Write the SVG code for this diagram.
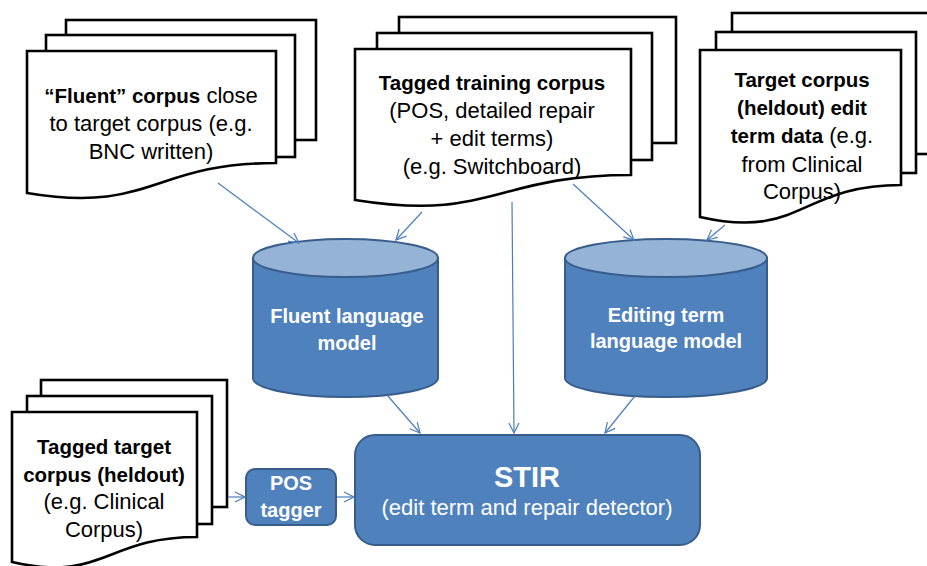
<svg xmlns="http://www.w3.org/2000/svg" width="927" height="566" viewBox="0 0 927 566">
<defs>
<style>
.pg{fill:#fff;stroke:#000;stroke-width:2.6;stroke-linejoin:miter}
.t{font-family:"Liberation Sans",Arial,sans-serif;font-size:22px;fill:#000;text-anchor:middle}
.b{font-weight:bold;font-size:20.5px}
.w{fill:#fff;font-weight:bold;font-size:20px}
.body{fill:#4F81BD;stroke:#385D8A;stroke-width:2}
.top{fill:#95B3D7;stroke:#385D8A;stroke-width:2}
.cn{stroke:#4A7EBB;stroke-width:1.2;fill:none;marker-end:url(#ah)}
</style>
<marker id="ah" markerUnits="userSpaceOnUse" markerWidth="12" markerHeight="12" viewBox="0 0 12 12" refX="11" refY="6" orient="auto">
<path d="M1,1 L11,6 L1,11" fill="none" stroke="#4A7EBB" stroke-width="1.2"/>
</marker>
</defs>
<rect width="927" height="566" fill="#fff"/>

<g id="doc-fluent">
<rect class="pg" x="66" y="20" width="250" height="120"/>
<rect class="pg" x="46" y="35" width="249" height="122"/>
<path class="pg" d="M27,51 H276 V163 C151.5,163 151.5,214 27,193 Z"/>
<text class="t" x="151" y="103"><tspan class="b">“Fluent” corpus</tspan> close</text>
<text class="t" x="151" y="131">to target corpus (e.g.</text>
<text class="t" x="151" y="159">BNC written)</text>
</g>

<g id="doc-training">
<rect class="pg" x="399" y="17" width="277" height="126"/>
<rect class="pg" x="377" y="33" width="275" height="127"/>
<path class="pg" d="M355,49 H631 V175 C493,175 493,222 355,200 Z"/>
<text class="t b" x="492" y="90">Tagged training corpus</text>
<text class="t" x="492" y="118">(POS, detailed repair</text>
<text class="t" x="492" y="146">+ edit terms)</text>
<text class="t" x="492" y="174">(e.g. Switchboard)</text>
</g>

<g id="doc-target">
<rect class="pg" x="732" y="13" width="208" height="141"/>
<rect class="pg" x="716" y="32" width="200" height="141"/>
<path class="pg" d="M700,50 H901 V185 C800.5,185 800.5,240 700,217 Z"/>
<text class="t b" x="802" y="87">Target corpus</text>
<text class="t b" x="802" y="115">(heldout) edit</text>
<text class="t" x="802" y="143"><tspan class="b">term data</tspan> (e.g.</text>
<text class="t" x="802" y="172">from Clinical</text>
<text class="t" x="802" y="199">Corpus)</text>
</g>

<g id="doc-heldout">
<rect class="pg" x="41" y="380" width="186" height="127"/>
<rect class="pg" x="27" y="396" width="185" height="128"/>
<path class="pg" d="M12,412 H197 V537 C104.5,537 104.5,583 12,562 Z"/>
<text class="t b" x="104" y="454">Tagged target</text>
<text class="t b" x="104" y="482">corpus (heldout)</text>
<text class="t" x="104" y="509">(e.g. Clinical</text>
<text class="t" x="104" y="537">Corpus)</text>
</g>

<g id="lm-fluent">
<path class="body" d="M253,258 V378 A92.5,19 0 0 0 438,378 V258 Z"/>
<ellipse class="top" cx="345.5" cy="258" rx="92.5" ry="19"/>
<text class="t w" x="347" y="323">Fluent language</text>
<text class="t w" x="347" y="350">model</text>
</g>

<g id="lm-editing">
<path class="body" d="M565,258 V378 A101,19 0 0 0 767,378 V258 Z"/>
<ellipse class="top" cx="666" cy="258" rx="101" ry="19"/>
<text class="t w" x="666" y="322">Editing term</text>
<text class="t w" x="666" y="348">language model</text>
</g>

<g id="pos-tagger">
<rect class="body" x="246" y="469" width="90" height="56" rx="9"/>
<text class="t w" x="291" y="490">POS</text>
<text class="t w" x="291" y="517">tagger</text>
</g>

<g id="stir">
<rect class="body" x="355" y="435" width="345" height="110" rx="20"/>
<text class="t w" x="527" y="487" style="font-size:29px">STIR</text>
<text class="t" x="527" y="515" style="fill:#fff;font-size:22px">(edit term and repair detector)</text>
</g>

<g id="connectors">
<line class="cn" x1="218" y1="183" x2="299" y2="243"/>
<line class="cn" x1="422" y1="212" x2="396" y2="240"/>
<line class="cn" x1="512" y1="202" x2="514" y2="433"/>
<line class="cn" x1="573" y1="184" x2="634" y2="240"/>
<line class="cn" x1="725" y1="225" x2="707" y2="240"/>
<line class="cn" x1="387" y1="395" x2="420" y2="433"/>
<line class="cn" x1="635" y1="396" x2="605" y2="433"/>
<line class="cn" x1="228" y1="497" x2="245" y2="497"/>
<line class="cn" x1="337" y1="497" x2="354" y2="497"/>
</g>
</svg>
